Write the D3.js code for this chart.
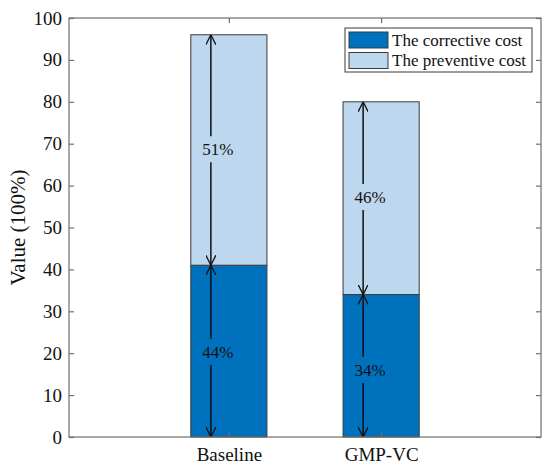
<!DOCTYPE html>
<html>
<head>
<meta charset="utf-8">
<script src="https://cdn.jsdelivr.net/npm/d3@7"></script>
<style>
  body { margin: 0; background: #fff; }
  text { font-family: "Liberation Serif", "Times New Roman", serif; fill: #111; }
</style>
</head>
<body>
<script>
// data
var categories = ["Baseline", "GMP-VC"];
var corrective = [41, 34];
var preventive = [55, 46];            // stacked on top of corrective
var corrLabels = ["44%", "34%"];
var prevLabels = ["51%", "46%"];
var corrLabelAt = [20.3, 16];         // label heights (value units)
var prevLabelAt = [68.7, 57.3];
var yTicks = [0, 10, 20, 30, 40, 50, 60, 70, 80, 90, 100];
var seriesNames = ["The corrective cost", "The preventive cost"];
var colors = ["#0072bd", "#bdd7ee"];

var W = 550, H = 471;
var pLeft = 69, pRight = 541, pTop = 18, pBottom = 437;
var serif = "'Liberation Serif', 'Times New Roman', serif";

var svg = d3.select("body").append("svg")
    .attr("width", W)
    .attr("height", H);

var x = d3.scaleLinear().domain([-0.05, 3.05]).range([pLeft, pRight]);
var y = d3.scaleLinear().domain([0, 100]).range([pBottom, pTop]);
var barW = x(0.5) - x(0);
var axisCol = "#6e6e6e";

svg.append("defs").append("marker")
    .attr("id", "head")
    .attr("viewBox", "0 0 10 10")
    .attr("refX", 10).attr("refY", 5)
    .attr("markerWidth", 10).attr("markerHeight", 10)
    .attr("markerUnits", "userSpaceOnUse")
    .attr("orient", "auto")
    .append("path")
    .attr("d", "M0,0 L10,5 L0,10")
    .style("fill", "none")
    .style("stroke", "#111")
    .style("stroke-width", 1.3);

// bars
categories.forEach(function(c, i) {
    var cx = x(i + 1);
    svg.append("rect")
        .attr("x", cx - barW / 2)
        .attr("y", y(corrective[i]))
        .attr("width", barW)
        .attr("height", y(0) - y(corrective[i]))
        .style("fill", colors[0])
        .style("stroke", "#3a3a3a");
    svg.append("rect")
        .attr("x", cx - barW / 2)
        .attr("y", y(corrective[i] + preventive[i]))
        .attr("width", barW)
        .attr("height", y(corrective[i]) - y(corrective[i] + preventive[i]))
        .style("fill", colors[1])
        .style("stroke", "#3a3a3a");
});

// double arrows with label in the middle
function arrow(ax, lo, hi, at, label) {
    var ly = y(at);
    var gap = 13;
    svg.append("line")
        .attr("x1", ax).attr("x2", ax)
        .attr("y1", ly - gap).attr("y2", y(hi))
        .style("stroke", "#111").style("stroke-width", 1.5)
        .attr("marker-end", "url(#head)");
    svg.append("line")
        .attr("x1", ax).attr("x2", ax)
        .attr("y1", ly + gap).attr("y2", y(lo))
        .style("stroke", "#111").style("stroke-width", 1.5)
        .attr("marker-end", "url(#head)");
    svg.append("text")
        .attr("x", ax + 7)
        .attr("y", ly)
        .attr("dy", "0.35em")
        .attr("text-anchor", "middle")
        .style("font-family", serif)
        .style("font-size", "17px")
        .text(label);
}

categories.forEach(function(c, i) {
    var ax = x(i + 1) - 18;
    arrow(ax, 0, corrective[i], corrLabelAt[i], corrLabels[i]);
    arrow(ax, corrective[i], corrective[i] + preventive[i], prevLabelAt[i], prevLabels[i]);
});

// axes box
svg.append("rect")
    .attr("x", pLeft).attr("y", pTop)
    .attr("width", pRight - pLeft).attr("height", pBottom - pTop)
    .style("fill", "none")
    .style("stroke", axisCol)
    .style("stroke-width", 1.2);

var yAxis = d3.axisLeft(y).tickValues(yTicks).tickSizeInner(-5).tickSizeOuter(0).tickPadding(7);
var gy = svg.append("g").attr("transform", "translate(" + pLeft + ",0)").call(yAxis);
var yAxisR = d3.axisRight(y).tickValues(yTicks).tickSizeInner(-5).tickSizeOuter(0).tickFormat("");
var gyr = svg.append("g").attr("transform", "translate(" + pRight + ",0)").call(yAxisR);

var xAxis = d3.axisBottom(x).tickValues([1, 2]).tickSizeInner(-5).tickSizeOuter(0).tickPadding(11)
    .tickFormat(function(d) { return categories[d - 1]; });
var gx = svg.append("g").attr("transform", "translate(0," + pBottom + ")").call(xAxis);
var xAxisT = d3.axisTop(x).tickValues([1, 2]).tickSizeInner(-5).tickSizeOuter(0).tickFormat("");
var gxt = svg.append("g").attr("transform", "translate(0," + pTop + ")").call(xAxisT);

[gy, gyr, gx, gxt].forEach(function(g) {
    g.attr("font-family", null);
    g.select(".domain").remove();
    g.selectAll("line").style("stroke", axisCol).style("stroke-width", 1.2);
    g.selectAll("text")
        .style("font-family", serif)
        .style("font-size", "19px")
        .style("fill", "#111");
});

svg.append("text")
    .attr("transform", "translate(25," + (pTop + pBottom) / 2 + ") rotate(-90)")
    .attr("text-anchor", "middle")
    .style("font-family", serif)
    .style("font-size", "21px")
    .text("Value (100%)");

// legend
var lg = svg.append("g");
lg.append("rect")
    .attr("x", 345).attr("y", 28)
    .attr("width", 187).attr("height", 44)
    .style("fill", "#fff")
    .style("stroke", "#3a3a3a");
seriesNames.forEach(function(s, i) {
    lg.append("rect")
        .attr("x", 349).attr("y", 32 + i * 20.5)
        .attr("width", 39).attr("height", 16)
        .style("fill", colors[i])
        .style("stroke", "#3a3a3a");
    lg.append("text")
        .attr("x", 392).attr("y", 40 + i * 20.5)
        .attr("dy", "0.35em")
        .style("font-family", serif)
        .style("font-size", "17px")
        .text(s);
});
</script>
</body>
</html>
